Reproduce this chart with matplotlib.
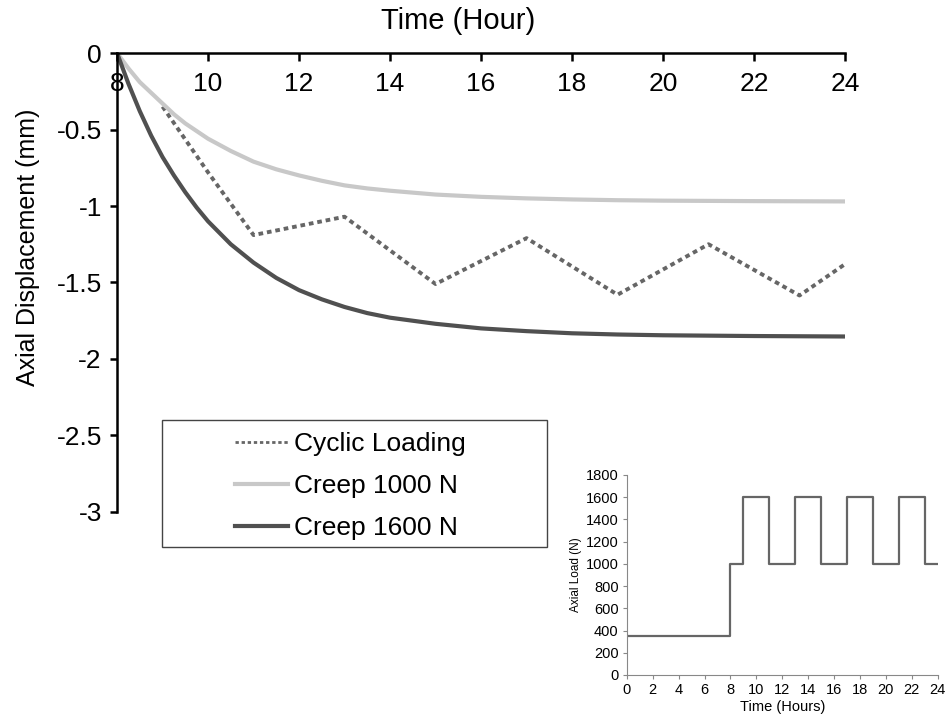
import matplotlib
matplotlib.use('Agg')
import matplotlib.pyplot as plt
from matplotlib.patches import Rectangle

plt.rcParams['font.family'] = ['Liberation Sans', 'DejaVu Sans']

# main chart data (hours, mm)
cyc_t = [9, 10, 11, 13, 15, 17, 19, 21, 23, 24]
cyc_y = [-0.35, -0.78, -1.19, -1.07, -1.51, -1.21, -1.58, -1.25, -1.585, -1.38]

creep_t = [8, 8.25, 8.5, 8.75, 9, 9.25, 9.5, 9.75, 10, 10.5, 11, 11.5, 12, 12.5, 13,
           13.5, 14, 15, 16, 17, 18, 19, 20, 22, 24]
creep1000 = [0, -0.10, -0.19, -0.26, -0.33, -0.40, -0.46, -0.51, -0.56, -0.64, -0.71,
             -0.76, -0.80, -0.835, -0.865, -0.885, -0.90, -0.925, -0.94, -0.95, -0.957,
             -0.962, -0.965, -0.968, -0.97]
creep1600 = [0, -0.20, -0.38, -0.54, -0.68, -0.80, -0.91, -1.01, -1.10, -1.25, -1.37,
             -1.47, -1.55, -1.61, -1.66, -1.70, -1.73, -1.77, -1.80, -1.818, -1.832,
             -1.84, -1.845, -1.85, -1.853]

x_ticks = [8, 10, 12, 14, 16, 18, 20, 22, 24]
y_ticks = [0, -0.5, -1, -1.5, -2, -2.5, -3]
y_labels = ['0', '-0.5', '-1', '-1.5', '-2', '-2.5', '-3']

# inset: load history
load_t = [0, 8, 9, 11, 13, 15, 17, 19, 21, 23, 24]
load_n = [350, 1000, 1600, 1000, 1600, 1000, 1600, 1000, 1600, 1000, 1000]

fig = plt.figure(figsize=(9.47, 7.17), dpi=100)
ax = fig.add_axes([0.1236, 0.286, 0.7687, 0.640])

ax.plot(cyc_t, cyc_y, color='#666666', lw=2.8, linestyle=(0, (1.2, 1.0)), label='Cyclic Loading')
ax.plot(creep_t, creep1000, color='#c8c8c8', lw=3.0, label='Creep 1000 N')
ax.plot(creep_t, creep1600, color='#505050', lw=3.0, label='Creep 1600 N')

ax.set_xlim(8, 24)
ax.set_ylim(-3, 0)
ax.spines['right'].set_visible(False)
ax.spines['bottom'].set_visible(False)
ax.spines['top'].set_linewidth(1.8)
ax.spines['left'].set_linewidth(1.8)
ax.xaxis.tick_top()
ax.set_xticks(x_ticks)
ax.set_yticks(y_ticks)
ax.set_yticklabels(y_labels)
ax.tick_params(axis='x', direction='in', length=6, width=1.8, labelsize=19, pad=-31)
ax.tick_params(axis='y', direction='out', length=5, width=1.8, labelsize=19, pad=6)

fig.text(458 / 947, 1 - 21 / 717, 'Time (Hour)', fontsize=21, ha='center', va='center')
fig.text(28 / 947, 1 - 247 / 717, 'Axial Displacement (mm)', fontsize=18,
         ha='center', va='center', rotation=90)

# legend box
fig.patches.append(Rectangle((162 / 947, 1 - 547 / 717), 385 / 947, 127 / 717,
                             transform=fig.transFigure, fill=False,
                             edgecolor='#444444', lw=1.0))
handles, labels = ax.get_legend_handles_labels()
leg = fig.legend(handles, labels, loc='upper left', bbox_to_anchor=(235 / 947, 1 - 432 / 717),
                 frameon=False, fontsize=19, handlelength=2.0, handletextpad=0.23,
                 labelspacing=0.68, borderpad=0, borderaxespad=0)
leg.get_lines()[0].set_linewidth(2.0)

# inset
ins = fig.add_axes([0.662, 0.0586, 0.328, 0.279])
ins.step(load_t, load_n, where='post', color='#666666', lw=1.6)
ins.set_xlim(0, 24)
ins.set_ylim(0, 1800)
ins.set_xticks(range(0, 25, 2))
ins.set_yticks(range(0, 1801, 200))
for s in ['top', 'right']:
    ins.spines[s].set_visible(False)
for s in ['left', 'bottom']:
    ins.spines[s].set_color('#888888')
ins.tick_params(direction='out', length=3, color='#888888', labelsize=10.5, pad=3)
ins.set_xlabel('Time (Hours)', fontsize=10.5, labelpad=2)
ins.set_ylabel('Axial Load (N)', fontsize=8.5, labelpad=3)

fig.savefig('out.png', dpi=100)
